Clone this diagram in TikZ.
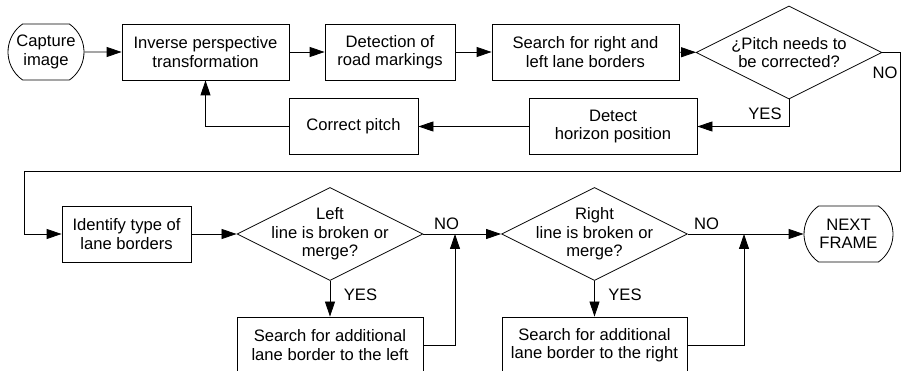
\documentclass[tikz,border=0pt]{standalone}
\usepackage{fontspec}
\setmainfont{Liberation Sans}
\usetikzlibrary{shapes.geometric}
\usetikzlibrary{shapes.misc}
\usetikzlibrary{arrows.meta}

\tikzset{
  stepbox/.style={draw, align=center, minimum height=56pt, inner sep=2pt},
  terminal/.style={draw, rounded rectangle, rounded rectangle arc length=110,
    align=center, minimum height=56pt, inner sep=2pt},
  decision/.style={draw, diamond, minimum width=186pt, minimum height=93pt, inner sep=0pt},
  flow/.style={arrows={-Triangle[width=10pt, length=15pt]}},
}

\begin{document}
\begin{tikzpicture}[x=1pt, y=-1pt, line width=0.8pt,
    font=\fontsize{16.6}{18.5}\selectfont]
    \useasboundingbox (0, 0) rectangle (902, 371);
    % top row
    \node[terminal, minimum width=80pt] (capture) at (46, 52) {Capture\\image};
    \node[stepbox, minimum width=167pt] (ipt) at (205.5, 52) {Inverse perspective\\transformation};
    \node[stepbox, minimum width=130pt] (marks) at (390, 52) {Detection of\\road markings};
    \node[stepbox, minimum width=187pt] (borders) at (585.5, 52) {Search for right and\\left lane borders};
    \node[decision, label={[align=center]center:¿Pitch needs to\\be corrected?}] (pitchq) at (789, 52.5) {};
    \node[stepbox, minimum width=168pt] (horizon) at (613, 126.5) {Detect\\horizon position};
    \node[stepbox, minimum width=129pt] (pitch) at (353.5, 126.5) {Correct pitch};
    % bottom row
    \node[stepbox, minimum width=129pt] (ident) at (126.5, 234) {Identify type of\\lane borders};
    \node[decision, label={[align=center]center:Left\\line is broken or\\merge?}] (leftq) at (330, 234) {};
    \node[decision, label={[align=center]center:Right\\line is broken or\\merge?}] (rightq) at (594.5, 234) {};
    \node[terminal, minimum width=93pt] (next) at (848.5, 234) {NEXT\\FRAME};
    \node[stepbox, minimum width=186pt] (addleft) at (330, 345) {Search for additional\\lane border to the left};
    \node[stepbox, minimum width=185pt] (addright) at (594.5, 345) {Search for additional\\lane border to the right};
    % bends and joins
    \coordinate (nobend) at (900, 171);
    \coordinate (nodrop) at (24, 171);
    \coordinate (leftjoin) at (455, 234);
    \coordinate (rightjoin) at (744, 234);
    % connectors
    \draw[flow] (capture) -- (ipt);
    \draw[flow] (ipt) -- (marks);
    \draw[flow] (marks) -- (borders);
    \draw[flow] (borders) -- (pitchq);
    \draw[flow] (pitchq.south) |- (horizon);
    \draw[flow] (horizon) -- (pitch);
    \draw[flow] (pitch) -| (ipt);
    \draw[flow] (pitchq.east) -| (nobend) -- (nodrop) |- (ident);
    \draw[flow] (ident) -- (leftq);
    \draw[flow] (leftq) -- (rightq);
    \draw[flow] (leftq.south) -- (addleft);
    \draw[flow] (addleft) -| (leftjoin);
    \draw[flow] (rightq) -- (next);
    \draw[flow] (rightq.south) -- (addright);
    \draw[flow] (addright) -| (rightjoin);
    % labels
    \node (nopitch) at (885, 72.5) {NO};
    \node (yespitch) at (765, 114) {YES};
    \node (noleft) at (446.5, 224) {NO};
    \node (yesleft) at (360.5, 294.5) {YES};
    \node (noright) at (706.5, 224) {NO};
    \node (yesright) at (625, 294.5) {YES};
\end{tikzpicture}
\end{document}
